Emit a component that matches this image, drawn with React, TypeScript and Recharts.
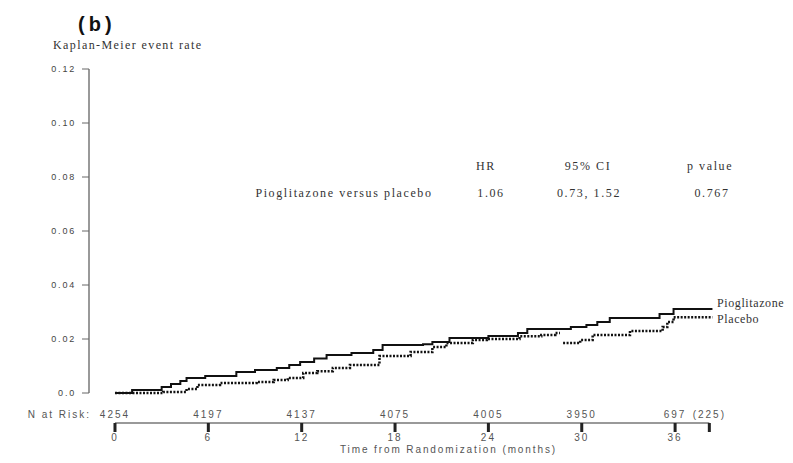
import React from "react";
import { LineChart, Line, XAxis, YAxis, ReferenceLine } from "recharts";

// Kaplan-Meier cumulative event rate by month
const pioMonths = [0, 1.1, 3.0, 3.6, 4.2, 4.6, 5.8, 7.8, 9.0, 10.4, 11.2, 11.9, 12.8, 13.6, 15.2, 16.6, 17.2, 19.8, 20.4, 21.5, 24.0, 25.9, 26.5, 29.3, 30.3, 31.0, 31.8, 35.0, 35.9, 38.4];
const pioRates = [0, 0.0011, 0.0022, 0.0033, 0.0044, 0.0056, 0.0063, 0.0078, 0.0085, 0.0093, 0.0104, 0.0115, 0.0128, 0.0141, 0.0148, 0.0159, 0.0178, 0.0181, 0.0189, 0.0204, 0.0211, 0.0222, 0.0237, 0.0244, 0.0252, 0.0263, 0.0278, 0.0293, 0.0311, 0.0311];

const placeboMonths = [0, 3.1, 4.6, 5.3, 6.75, 9.1, 10.2, 11.1, 12.1, 13.0, 14.0, 15.1, 17.0, 19.0, 20.4, 21.3, 23.0, 23.9, 26.0, 27.4, 28.3, 28.6, 28.7, 28.8, 29.9, 30.7, 33.1, 35.2, 35.5, 35.9, 38.4];
const placeboRates: (number | null)[] = [0, 0.0004, 0.0015, 0.003, 0.0037, 0.0041, 0.0048, 0.0056, 0.0074, 0.0081, 0.0093, 0.0104, 0.0137, 0.0152, 0.017, 0.0185, 0.0196, 0.02, 0.021, 0.0215, 0.0222, 0.0222, null, 0.0185, 0.0196, 0.0215, 0.023, 0.0244, 0.0263, 0.0281, 0.0281];

const monthTicks = [0, 6, 12, 18, 24, 30, 36, 38.2];
const monthLabels = ["0", "6", "12", "18", "24", "30", "36", ""];
const atRisk = ["4254", "4197", "4137", "4075", "4005", "3950", "697", "(225)"];
const rateTicks = [0, 0.02, 0.04, 0.06, 0.08, 0.1, 0.12];

const pioData = pioMonths.map((t, i) => ({ t, rate: pioRates[i] }));
const placeboData = placeboMonths.map((t, i) => ({ t, rate: placeboRates[i] }));

const SANS = "'Liberation Sans', Arial, sans-serif";
const SERIF = "'Liberation Serif', 'Times New Roman', serif";

function MonthTick(props: any) {
  const { x, y, payload } = props;
  const i = monthTicks.indexOf(payload.value);
  const txt = { fontFamily: SANS, fontSize: 10, fill: "#555", letterSpacing: 2 };
  return (
    <g>
      {i === 0 && (
        <text x={x - 24} y={y + 25} textAnchor="end" style={txt}>
          N at Risk:
        </text>
      )}
      <text x={x} y={y + 25} textAnchor="middle" style={txt}>
        {atRisk[i]}
      </text>
      <rect x={x - 1.5} y={y + 30} width={3} height={9} fill="#222" />
      <text x={x} y={y + 48} textAnchor="middle" style={txt}>
        {monthLabels[i]}
      </text>
    </g>
  );
}

const serifText = { fontFamily: SERIF, fontSize: 12, fill: "#333", letterSpacing: 1.6 };

export default function App() {
  return (
    <LineChart width={777} height={447} margin={{ top: 61, right: 71, bottom: 2, left: 21 }}>
      <XAxis
        type="number"
        dataKey="t"
        domain={[-1.67, 38.5]}
        ticks={monthTicks}
        axisLine={false}
        tickLine={false}
        tickSize={0}
        tickMargin={0}
        height={60}
        tick={<MonthTick />}
        label={{
          value: "Time from Randomization (months)",
          position: "insideBottom",
          offset: 0,
          dx: 47,
          style: { fontFamily: SANS, fontSize: 10, fill: "#555", letterSpacing: 1.9 },
        }}
      />
      <YAxis
        type="number"
        domain={[0, 0.12]}
        ticks={rateTicks}
        width={60}
        tickFormatter={(v: number) => (v === 0 ? "0.0" : v.toFixed(2))}
        axisLine={{ stroke: "#999", strokeWidth: 2 }}
        tickLine={{ stroke: "#666" }}
        tickSize={7}
        tickMargin={6}
        tick={{ fontFamily: SANS, fontSize: 9, fill: "#444", letterSpacing: 1.8 }}
      />
      <ReferenceLine
        segment={[
          { x: 0, y: -0.0111 },
          { x: 38.2, y: -0.0111 },
        ]}
        stroke="#999"
        strokeWidth={2}
        ifOverflow="visible"
      />
      <Line
        data={pioData}
        dataKey="rate"
        type="stepAfter"
        stroke="#111"
        strokeWidth={2}
        dot={false}
        isAnimationActive={false}
      />
      <Line
        data={placeboData}
        dataKey="rate"
        type="stepAfter"
        stroke="#111"
        strokeWidth={2.5}
        strokeDasharray="2 1.5"
        dot={false}
        isAnimationActive={false}
      />

      <text x={70} y={23} style={{ fontFamily: SANS, fontSize: 20, fontWeight: 700, fill: "#111", letterSpacing: 4 }}>
        (b)
      </text>
      <text x={45} y={41} style={{ ...serifText, letterSpacing: 1.4 }}>
        Kaplan-Meier event rate
      </text>

      <text x={478} y={162} textAnchor="middle" style={serifText}>HR</text>
      <text x={580} y={162} textAnchor="middle" style={serifText}>95% CI</text>
      <text x={702} y={162} textAnchor="middle" style={serifText}>p value</text>
      <text x={336} y={189} textAnchor="middle" style={serifText}>Pioglitazone versus placebo</text>
      <text x={483} y={189} textAnchor="middle" style={serifText}>1.06</text>
      <text x={581} y={189} textAnchor="middle" style={serifText}>0.73, 1.52</text>
      <text x={704} y={189} textAnchor="middle" style={serifText}>0.767</text>

      <text x={709} y={299} style={{ ...serifText, letterSpacing: 0.6 }}>Pioglitazone</text>
      <text x={709} y={315} style={{ ...serifText, letterSpacing: 0.6 }}>Placebo</text>
    </LineChart>
  );
}
